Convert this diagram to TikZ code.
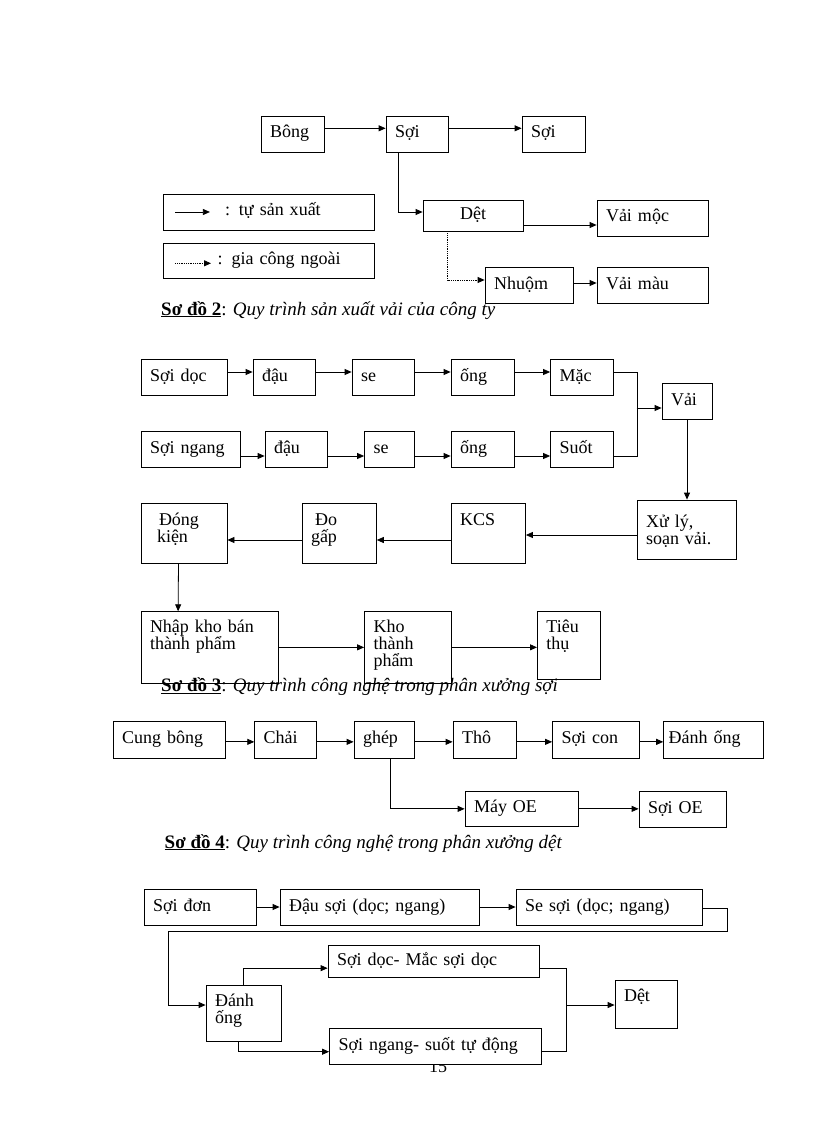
\documentclass[tikz,border=0pt]{standalone}
\usepackage{fontspec}
\setmainfont{Liberation Serif}
\usepackage{tikz}
\usetikzlibrary{calc, arrows.meta}
\newcommand{\boxfont}{\fontsize{18}{17}\selectfont}
\tikzset{
    box/.style 2 args={rectangle, draw, fill=white, line width=0.8pt, inner xsep=9pt, inner ysep=0pt,
        text width=#1pt-18pt, minimum height=#2pt, align=left, text height=12pt, text depth=4pt, font=\boxfont},
    arr/.style={-{Triangle[length=7pt,width=6pt]}, line width=0.8pt},
    sodo/.style={anchor=base west, inner sep=0pt, font=\fontsize{19}{19}\selectfont}
}

\begin{document}
\begin{tikzpicture}[x=1pt, y=-1pt]
        \useasboundingbox (0,0) rectangle (816,1123);

        % So do 2
        \node[box={63}{36}] at (292.5, 134) (bong) {Bông};
        \node[box={62}{36}] at (417, 134) (soi) {Sợi};
        \node[box={63}{36}] at (553.5, 134) (soira) {Sợi};
        \node[box={100}{31}, align=center] at (473, 215.5) (det) {Dệt};
        \node[box={111}{36}] at (652.5, 218) (vaimoc) {Vải mộc};
        \node[box={88}{36}] at (529, 285) (nhuom) {Nhuộm};
        \node[box={111}{36}] at (652.5, 285) (vaimau) {Vải màu};
        \node[box={211}{36}] at (268.5, 212) (leg1) {\hspace*{53pt}: tự sản xuất};
        \node[box={211}{35}] at (268.5, 260.5) (leg2) {\hspace*{45.6pt}: gia công ngoài};

        \draw[arr] ($(leg1.west)+(12.6,0)$) -- ($(leg1.west)+(47.3,0)$);
        \draw[arr, densely dotted] ($(leg2.west)+(12.6,2.8)$) -- ($(leg2.west)+(48.4,2.8)$);

        \draw[arr] ($(bong.east)+(0,-5.7)$) -- ($(soi.west)+(0,-5.7)$);
        \draw[arr] ($(soi.east)+(0,-5.7)$) -- ($(soira.west)+(0,-5.7)$);
        \draw[arr] ($(soi.south west)+(12.5,0)$) |- ($(det.west)+(0,-3.5)$);
        \draw[arr] ($(det.east)+(0,9.5)$) -- ($(vaimoc.west)+(0,7)$);
        \draw[arr, densely dotted] ($(det.south west)+(25,0)$) |- ($(nhuom.west)+(0,-5)$);
        \draw[arr] ($(nhuom.east)+(0,-2)$) -- ($(vaimau.west)+(0,-2)$);

        \node[sodo] at (161, 315) (sodo2) {\underline{\textbf{Sơ đồ 2}}: \textit{Quy trình sản xuất vải của công ty}};

        % So do 3
        \node[box={86}{36}] at (184, 377) (sodoc) {Sợi dọc};
        \node[box={62}{36}] at (284, 377) (dau1) {đậu};
        \node[box={62}{36}] at (383, 377) (se1) {se};
        \node[box={63}{36}] at (482.5, 377) (ong1) {ống};
        \node[box={62.5}{36}] at (581.75, 377) (mac) {Mặc};
        \node[box={99.5}{36}] at (190.75, 449) (songang) {Sợi ngang};
        \node[box={62.5}{36}] at (296.25, 449) (dau2) {đậu};
        \node[box={49.5}{36}] at (389.25, 449) (se2) {se};
        \node[box={63}{36}] at (482.5, 449) (ong2) {ống};
        \node[box={62.5}{36}] at (581.75, 449) (suot) {Suốt};
        \node[box={50}{36}] at (687, 401) (vai) {Vải};
        \node[box={99}{59}, text depth=17pt] at (686.5, 529.5) (xuly) {Xử lý,\\soạn vải.};
        \node[box={74.5}{60}, text depth=28pt] at (488.25, 533) (kcs) {KCS};
        \node[box={74.4}{60}, text depth=28pt] at (339.2, 533) (dogap) {\hspace*{4pt}Đo\\gấp};
        \node[box={86}{60}, text depth=28pt] at (184, 533) (dongkien) {\hspace*{9pt}Đóng\\\hspace*{7pt}kiện};
        \node[box={137}{71.3}, text depth=42.7pt] at (209.5, 647.35) (nhapkho) {Nhập kho bán\\thành phẩm};
        \node[box={86.5}{71.3}, text depth=42.7pt] at (407.75, 647.35) (khotp) {Kho\\thành\\phẩm};
        \node[box={62.6}{67.3}, text depth=38.7pt] at (568.7, 645.35) (tieuthu) {Tiêu\\thụ};

        \draw[arr] ($(sodoc.east)+(0,-5)$) -- ($(dau1.west)+(0,-5)$);
        \draw[arr] ($(dau1.east)+(0,-5)$) -- ($(se1.west)+(0,-5)$);
        \draw[arr] ($(se1.east)+(0,-5)$) -- ($(ong1.west)+(0,-5)$);
        \draw[arr] ($(ong1.east)+(0,-5)$) -- ($(mac.west)+(0,-5)$);
        \draw[arr] ($(songang.east)+(0,7)$) -- ($(dau2.west)+(0,7)$);
        \draw[arr] ($(dau2.east)+(0,7)$) -- ($(se2.west)+(0,7)$);
        \draw[arr] ($(se2.east)+(0,7)$) -- ($(ong2.west)+(0,7)$);
        \draw[arr] ($(ong2.east)+(0,7)$) -- ($(suot.west)+(0,7)$);
        \draw[line width=0.8pt] ($(mac.east)+(0,-5)$) -| ($(suot.east)+(24,7)$) -- ($(suot.east)+(0,7)$);
        \draw[arr] ($(vai.west)+(-25,7)$) -- ($(vai.west)+(0,7)$);
        \draw[arr] (vai.south) -- (vai.south |- xuly.north);
        \draw[arr] ($(xuly.west)+(0,5.5)$) -- ($(kcs.east)+(0,2)$);
        \draw[arr] ($(kcs.west)+(0,7)$) -- ($(dogap.east)+(0,7)$);
        \draw[arr] ($(dogap.west)+(0,7)$) -- ($(dongkien.east)+(0,7)$);
        \draw[arr] ($(dongkien.south)+(-5.5,0)$) -- ($(nhapkho.north west)+(37.5,0)$);
        \draw[arr] (nhapkho.east) -- (khotp.west);
        \draw[arr] (khotp.east) -- (khotp.east -| tieuthu.west);

        \node[sodo] at (161, 691.7) (sodo3) {\underline{\textbf{Sơ đồ 3}}: \textit{Quy trình công nghệ trong phân xưởng sợi}};

        % So do 4
        \node[box={112.5}{36.3}] at (169.25, 739.85) (cungbong) {Cung bông};
        \node[box={62}{36.3}] at (285.7, 739.85) (chai) {Chải};
        \node[box={60.7}{36.3}] at (384.35, 739.85) (ghep) {ghép};
        \node[box={63}{36.3}] at (484.5, 739.85) (tho) {Thô};
        \node[box={86.5}{36.3}] at (595.75, 739.85) (soicon) {Sợi con};
        \node[box={99.9}{36.3}, inner xsep=5pt, text width=89.9pt] at (713.55, 739.85) (danhong) {Đánh ống};
        \node[box={113.6}{34.3}] at (521.8, 808.85) (mayoe) {Máy OE};
        \node[box={87}{35.3}] at (682.5, 809.35) (soioe) {Sợi OE};

        \draw[arr] ($(cungbong.east)+(0,2)$) -- ($(chai.west)+(0,2)$);
        \draw[arr] ($(chai.east)+(0,2)$) -- ($(ghep.west)+(0,2)$);
        \draw[arr] ($(ghep.east)+(0,2)$) -- ($(tho.west)+(0,2)$);
        \draw[arr] ($(tho.east)+(0,2)$) -- ($(soicon.west)+(0,2)$);
        \draw[arr] ($(soicon.east)+(0,2)$) -- ($(danhong.west)+(0,2)$);
        \draw[arr] ($(ghep.south west)+(37,0)$) |- (mayoe.west);
        \draw[arr] (mayoe.east) -- (mayoe.east -| soioe.west);

        \node[sodo] at (164.5, 848) (sodo4) {\underline{\textbf{Sơ đồ 4}}: \textit{Quy trình công nghệ trong phân xưởng dệt}};

        % phan xuong det
        \node[anchor=base, font=\boxfont] at (438, 1072) (trang) {15};
        \node[box={112.4}{36}] at (200.2, 907) (soidon) {Sợi đơn};
        \node[box={199}{36}] at (379.5, 907) (dausoi) {Đậu sợi (dọc; ngang)};
        \node[box={186}{36}] at (609, 907) (sesoi) {Se sợi (dọc; ngang)};
        \node[box={75}{56.7}, text depth=25.3pt] at (243.5, 1013.35) (danhong2) {Đánh\\ống};
        \node[box={211.4}{32.3}] at (433.7, 961.15) (soidocmac) {Sợi dọc- Mắc sợi dọc};
        \node[box={211.9}{36}] at (435.45, 1046) (soingang) {Sợi ngang- suốt tự động};
        \node[box={62.7}{48}, text depth=16.6pt] at (646.35, 1004) (det2) {Dệt};

        \draw[arr] (soidon.east) -- (dausoi.west);
        \draw[arr] (dausoi.east) -- (sesoi.west);
        \draw[arr] ($(sesoi.east)+(0,1)$) -- ++(25.4,0) -- ++(0,23.7) -| ($(danhong2.west)+(-37,-8.35)$) -- ($(danhong2.west)+(0,-8.35)$);
        \draw[arr] (danhong2.north) |- ($(soidocmac.west)+(0,7)$);
        \draw[arr] ($(danhong2.south)+(-5.5,0)$) |- ($(soingang.west)+(0,5.7)$);
        \draw[line width=0.8pt] ($(soidocmac.east)+(0,7)$) -| ($(soingang.east)+(25,5.7)$) -- ($(soingang.east)+(0,5.7)$);
        \draw[arr] ($(det2.west)+(-48.6,1)$) -- ($(det2.west)+(0,1)$);

    \end{tikzpicture}
\end{document}
